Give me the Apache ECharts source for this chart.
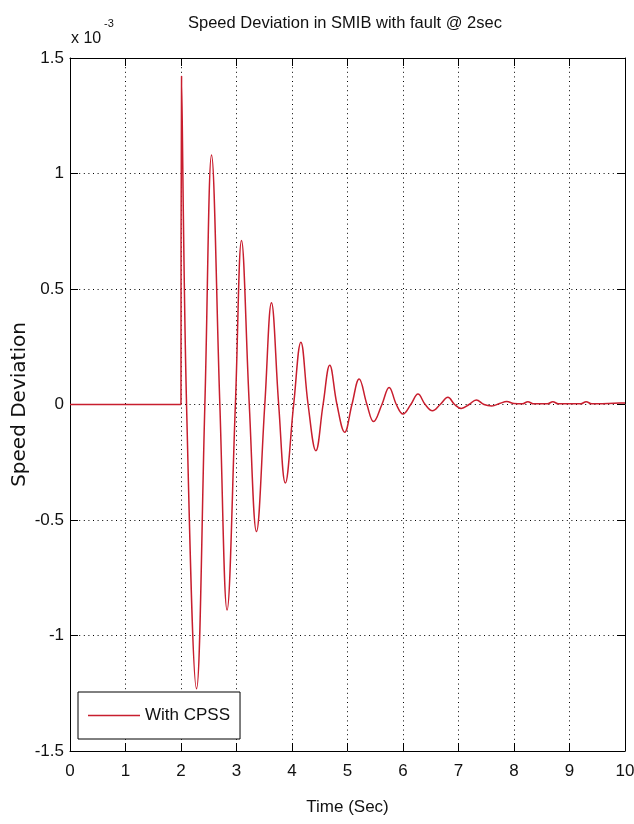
<!DOCTYPE html>
<html>
<head>
<meta charset="utf-8">
<script src="https://cdn.jsdelivr.net/npm/echarts@6/dist/echarts.min.js"></script>
<style>
  html, body { margin: 0; padding: 0; background: #fff; }
  #container { width: 634px; height: 824px; }
</style>
</head>
<body>
<div id="container"></div>
<script>
// values are in units of 1e-3
var preTime = [0, 2.0];
var preVal = [0, 0];

var postTime = [2.0, 2.01, 2.10, 2.28, 2.43, 2.55, 2.70, 2.83, 2.98, 3.09, 3.23, 3.36, 3.51, 3.63, 3.76, 3.88,
  4.03, 4.16, 4.29, 4.43, 4.56, 4.68, 4.81, 4.95, 5.08, 5.21, 5.35, 5.47, 5.62, 5.75, 5.88, 6.00,
  6.14, 6.27, 6.40, 6.53, 6.67, 6.81, 6.93, 7.05, 7.19, 7.32, 7.46, 7.60, 7.74, 7.87, 8.00, 8.15,
  8.25, 8.35, 8.45, 8.60, 8.70, 8.80, 8.90, 9.20, 9.30, 9.40, 9.50, 9.90, 10.0];
var postVal = [0, 1.42, 0, -1.23, 0, 1.08, 0, -0.89, 0, 0.71, 0, -0.55, 0, 0.44, 0, -0.34,
  0, 0.27, 0, -0.20, 0, 0.17, 0, -0.12, 0, 0.11, 0, -0.074, 0, 0.074, 0, -0.041,
  0, 0.045, 0, -0.027, 0, 0.031, 0, -0.017, 0, 0.02, 0, -0.006, 0.004, 0.013, 0.004, 0.003,
  0.012, 0.003, 0.003, 0.003, 0.012, 0.003, 0.003, 0.003, 0.012, 0.003, 0.003, 0.006, 0.006];

var titleText = 'Speed Deviation in SMIB with fault @ 2sec';
var seriesName = 'With CPSS';

var sans = "'Liberation Sans', Arial, sans-serif";
var lineColor = '#c81e2e';

function pairs(xs, ys) {
  return xs.map(function (x, i) { return [x, ys[i]]; });
}

var myChart = echarts.init(document.getElementById('container'));

var tickStyle = { inside: true, length: 8, lineStyle: { color: '#000', width: 1 } };
var gridLine = { show: true, lineStyle: { color: '#000', width: 1, type: [1, 3.6] } };
var boxLine = { show: true, onZero: false, lineStyle: { color: '#000', width: 1 } };

var option = {
  backgroundColor: '#fff',
  animation: false,
  title: {
    text: titleText,
    left: 183,
    top: 10,
    textStyle: { fontFamily: sans, fontSize: 16.5, fontWeight: 'normal', color: '#111' }
  },
  legend: {
    data: [seriesName],
    left: 78,
    top: 692,
    orient: 'vertical',
    padding: [15, 10, 15, 10],
    icon: 'rect',
    itemWidth: 52,
    itemHeight: 1.6,
    itemGap: 0,
    backgroundColor: '#fff',
    borderColor: '#000',
    borderWidth: 1,
    textStyle: { fontFamily: sans, fontSize: 17, color: '#111' }
  },
  grid: { left: 70, right: 9, top: 58, bottom: 73, containLabel: false, outerBoundsMode: 'none' },
  xAxis: [{
    type: 'value', min: 0, max: 10, interval: 1,
    name: 'Time (Sec)', nameLocation: 'middle', nameGap: 48, nameMoveOverlap: false,
    nameTextStyle: { fontFamily: sans, fontSize: 17, color: '#111' },
    axisLine: boxLine,
    axisTick: tickStyle,
    axisLabel: { margin: 12, fontFamily: sans, fontSize: 17, color: '#111' },
    splitLine: gridLine
  }, {
    type: 'value', min: 0, max: 10, interval: 1, position: 'top',
    axisLine: boxLine,
    axisTick: tickStyle,
    axisLabel: { show: false },
    splitLine: { show: false }
  }],
  yAxis: [{
    type: 'value', min: -1.5, max: 1.5, interval: 0.5,
    name: 'Speed Deviation', nameLocation: 'middle', nameGap: 40, nameMoveOverlap: false,
    nameTextStyle: { fontFamily: "'DejaVu Sans', sans-serif", fontSize: 20, color: '#111' },
    axisLine: boxLine,
    axisTick: tickStyle,
    axisLabel: { margin: 6, fontFamily: sans, fontSize: 17, color: '#111' },
    splitLine: gridLine
  }, {
    type: 'value', min: -1.5, max: 1.5, interval: 0.5, position: 'right',
    axisLine: boxLine,
    axisTick: tickStyle,
    axisLabel: { show: false },
    splitLine: { show: false }
  }],
  graphic: [
    { type: 'text', left: 71, top: 31, style: { text: 'x 10', font: '16px ' + sans, fill: '#111' } },
    { type: 'text', left: 104, top: 18, style: { text: '-3', font: '11px ' + sans, fill: '#111' } }
  ],
  series: [{
    name: seriesName,
    type: 'line',
    data: pairs(preTime, preVal),
    symbol: 'none',
    lineStyle: { color: lineColor, width: 1.5 },
    itemStyle: { color: lineColor }
  }, {
    name: seriesName,
    type: 'line',
    data: pairs(postTime, postVal),
    symbol: 'none',
    smooth: 0.4,
    lineStyle: { color: lineColor, width: 1.5 },
    itemStyle: { color: lineColor }
  }]
};

option && myChart.setOption(option);
</script>
</body>
</html>
